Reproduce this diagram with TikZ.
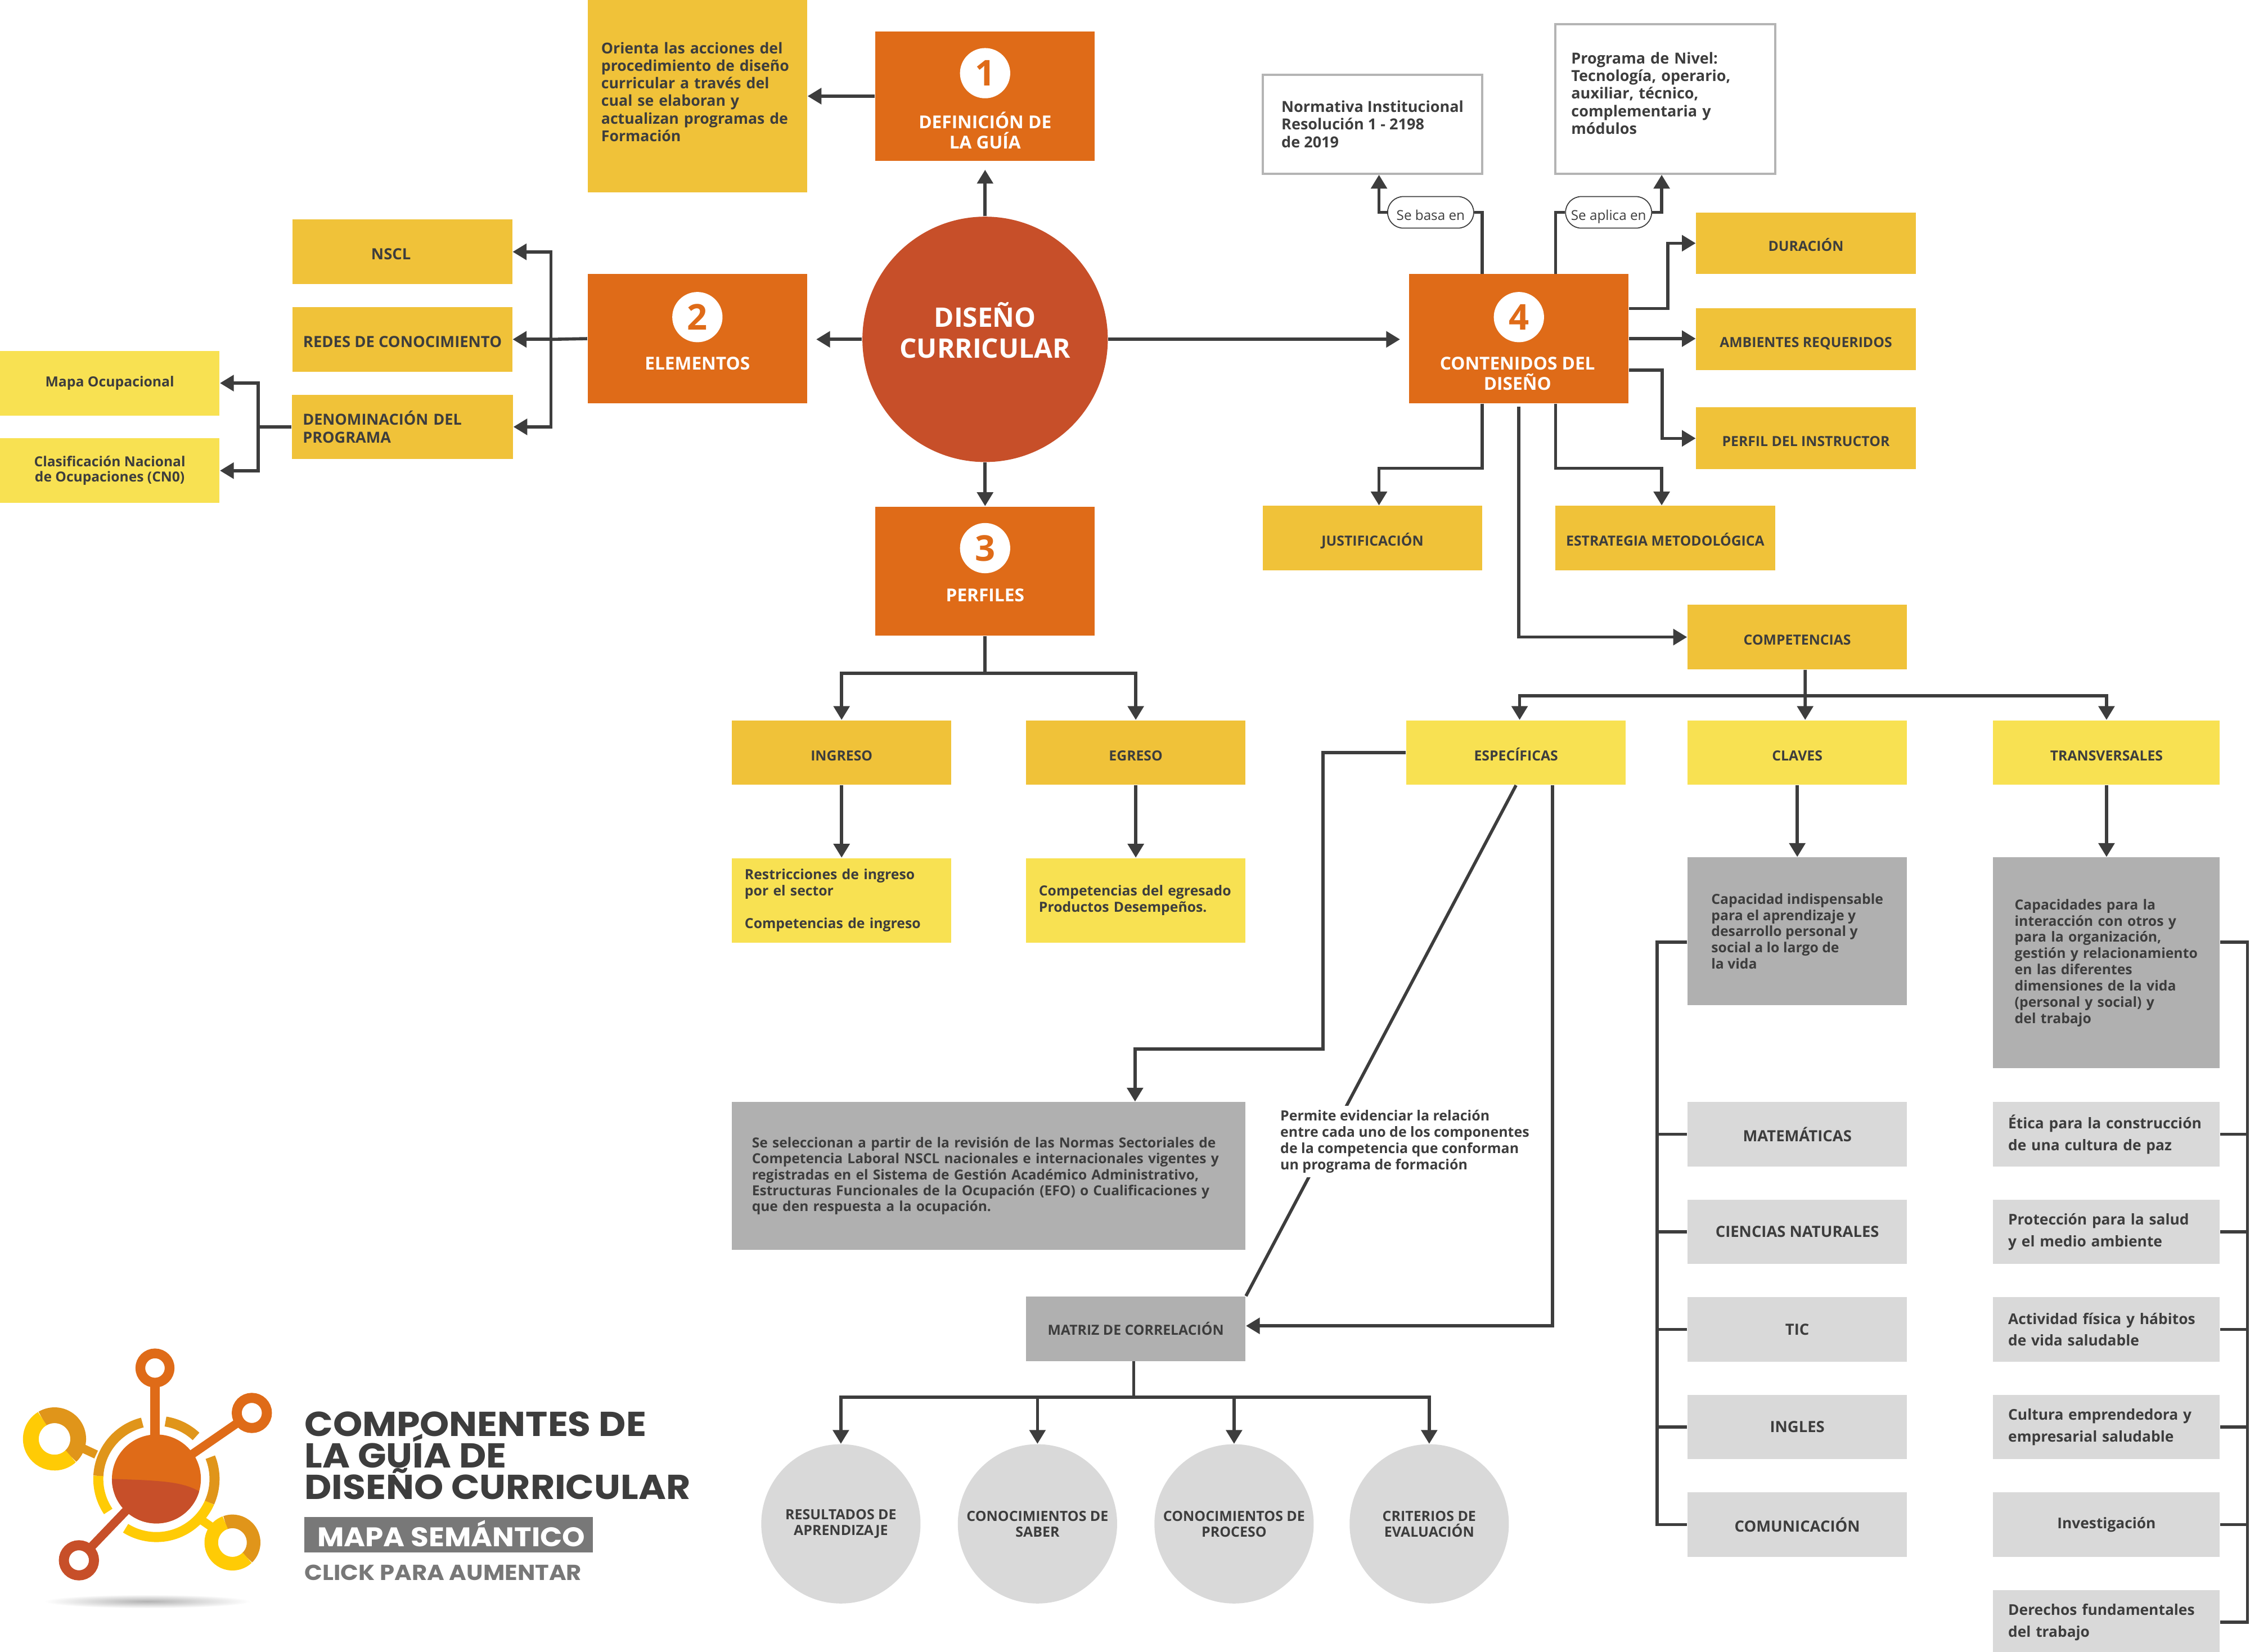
\documentclass[tikz,border=0pt]{standalone}
\usepackage{fontspec}
\setmainfont{Open Sans}
\newfontfamily\titlefont[FakeStretch=1.08]{Poppins}
\usetikzlibrary{arrows.meta,positioning}
\newlength{\pu}
\setlength{\pu}{0.0255102cm}
\definecolor{naranja}{HTML}{DF6B18}
\definecolor{rojizo}{HTML}{C74F29}
\definecolor{ambar}{HTML}{F0C239}
\definecolor{amarillo}{HTML}{F8E152}
\definecolor{grismedio}{HTML}{B0B0B0}
\definecolor{grisclaro}{HTML}{D9D9D9}
\definecolor{grisborde}{HTML}{B4B4B4}
\definecolor{tinta}{HTML}{3D3D3D}
\definecolor{gristitulo}{HTML}{787878}
\definecolor{logoamb}{HTML}{E0951A}
\definecolor{logoam}{HTML}{FFCB05}
\newcommand{\letra}[2]{\fontsize{#1}{#2}\selectfont}
\newcommand{\apretado}{\lineskiplimit=-20pt\relax}
\newcommand{\arcologo}[6]{\draw[#1,line width=#6\pu] (#2) ++(#3:#5) arc[start angle=#3,end angle=#4,radius=#5];}
\tikzset{
	caja/.style={rectangle,inner sep=0pt,minimum width=153\pu,minimum height=45\pu,text=tinta,align=center,font=\bfseries\letra{7.05}{8.2}},
	bajo/.style={text height=8pt,text depth=0pt},
	cajaambar/.style={caja,fill=ambar},
	cajaamar/.style={caja,fill=amarillo},
	cajagris/.style={caja,fill=grismedio},
	cajaclara/.style={caja,fill=grisclaro,font=\bfseries\letra{7.8}{11}},
	cajalista/.style={cajaclara,minimum width=158\pu,text width=137\pu,inner xsep=10.5\pu,align=left,font=\bfseries\letra{7.5}{11}},
	cajablanca/.style={caja,draw=grisborde,line width=1.2pt,fill=white,font=\bfseries\letra{7.7}{8.9}},
	cajanum/.style={rectangle,fill=naranja,minimum width=153\pu,minimum height=90\pu,inner sep=0pt},
	numero/.style={circle,fill=white,minimum size=35\pu,inner sep=0pt,text=naranja,font=\bfseries\letra{18}{18}},
	etiqnum/.style={inner sep=0pt,text=white,align=center,font=\bfseries\letra{9}{10.2}},
	pildora/.style={rectangle,rounded corners=11\pu,draw=tinta,line width=0.5pt,fill=white,minimum width=60\pu,minimum height=22\pu,inner sep=0pt,text=tinta,font=\letra{6.9}{8}},
	circulo/.style={circle,fill=grisclaro,minimum size=111\pu,inner sep=0pt,text=tinta,align=center,font=\bfseries\letra{7.1}{8}},
	conn/.style={draw=tinta,line width=1.6pt},
	flecha/.style={conn,-{Triangle[length=7pt,width=8pt]}},
	flechagap/.style={flecha,shorten >=4.4pt}
}
\begin{document}
\begin{tikzpicture}[x=1\pu,y=-1\pu]
	\useasboundingbox (0,0) rectangle (1568,1151.3);
	\node[cajaambar,minimum height=134\pu,text width=134\pu,inner xsep=9.5\pu,align=left,font=\bfseries\letra{7.6}{8.9}] (orienta) at (486,67) {Orienta las acciones del\\procedimiento de diseño\\curricular a través del\\cual se elaboran y\\actualizan programas de\\Formación\\[-4.5pt]\mbox{}};
	\node[cajanum] (def) at (686.5,67) {};
	\node[numero] (numdef) at (686.5,51) {1};
	\node[etiqnum] (labdef) at (686.5,91) {DEFINICIÓN DE\\LA GUÍA};
	\node[circle,fill=rojizo,minimum size=171\pu,inner sep=0pt,text=white,align=center,font=\bfseries\letra{13.6}{15.6}] (centro) at (686.5,236.5) {DISEÑO\\CURRICULAR\\[-6.2pt]\mbox{}};
	\node[cajanum] (elementos) at (486,236) {};
	\node[numero] (numelem) at (486,221) {2};
	\node[etiqnum] (labelem) at (486,253.5) {ELEMENTOS};
	\node[cajanum] (perfiles) at (686.5,398) {};
	\node[numero] (numperf) at (686.5,382) {3};
	\node[etiqnum] (labperf) at (686.5,415) {PERFILES};
	\node[cajanum] (contenidos) at (1058.5,236) {};
	\node[numero] (numcont) at (1058.5,221) {4};
	\node[etiqnum] (labcont) at (1057.5,260.5) {CONTENIDOS DEL\\DISEÑO};
	\node[cajaambar,bajo,font=\bfseries\letra{7.8}{9}] (nscl) at (280.5,175.5) {NSCL\hspace{16\pu}};
	\node[cajaambar,bajo,font=\bfseries\letra{7.8}{9}] (redes) at (280.5,236.5) {REDES DE CONOCIMIENTO};
	\node[cajaambar,text width=139\pu,inner xsep=7.5\pu,align=left,font=\bfseries\letra{7.7}{9}] (denom) at (280.5,297.5) {DENOMINACIÓN DEL\\PROGRAMA};
	\node[cajaamar,font=\bfseries\letra{7.05}{8}] (mapa) at (76.5,267) {Mapa Ocupacional};
	\node[cajaamar,font=\bfseries\letra{7}{7.6}] (clasif) at (76.5,328) {Clasificación Nacional\\de Ocupaciones (CN0)};
	\node[cajaambar,bajo] (ingreso) at (586.5,524.5) {INGRESO};
	\node[cajaambar,bajo] (egreso) at (791.5,524.5) {EGRESO};
	\node[cajaamar,minimum height=59\pu,text width=135\pu,inner xsep=9\pu,align=left] (restric) at (586.5,627.5) {Restricciones de ingreso\\por el sector\\\mbox{}\\Competencias de ingreso};
	\node[cajaamar,minimum height=59\pu,text width=135\pu,inner xsep=9\pu,align=left] (compeg) at (791.5,627.5) {Competencias del egresado\\Productos Desempeños.};
	\node[cajablanca,minimum height=69\pu,align=left] (normativa) at (956.5,86.5) {Normativa Institucional\\Resolución 1 - 2198\\de 2019};
	\node[cajablanca,text width=131\pu,inner xsep=11\pu,minimum height=104\pu,align=left] (programa) at (1160.5,69) {Programa de Nivel:\\Tecnología, operario,\\auxiliar, técnico,\\complementaria y\\módulos\\[-3pt]\mbox{}};
	\node[pildora,bajo] (basa) at (997,148) {Se basa en};
	\node[pildora,bajo] (aplica) at (1121,148) {Se aplica en};
	\node[cajaambar,bajo,minimum height=43\pu] (duracion) at (1258.5,169.5) {DURACIÓN};
	\node[cajaambar,bajo,minimum height=43\pu] (ambientes) at (1258.5,236.5) {AMBIENTES REQUERIDOS};
	\node[cajaambar,bajo,minimum height=43\pu] (perfil) at (1258.5,305.5) {PERFIL DEL INSTRUCTOR};
	\node[cajaambar,bajo] (justificacion) at (956.5,375) {JUSTIFICACIÓN};
	\node[cajaambar,bajo] (estrategia) at (1160.5,375) {ESTRATEGIA METODOLÓGICA};
	\node[cajaambar,bajo] (competencias) at (1252.5,444) {COMPETENCIAS};
	\node[cajaamar,bajo] (especificas) at (1056.5,524.5) {ESPECÍFICAS};
	\node[cajaamar,bajo] (claves) at (1252.5,524.5) {CLAVES};
	\node[cajaamar,bajo,minimum width=158\pu] (transversales) at (1468,524.5) {TRANSVERSALES};
	\node[cajagris,minimum height=103\pu,align=left] (capacidad) at (1252.5,649) {Capacidad indispensable\\para el aprendizaje y\\desarrollo personal y\\social a lo largo de\\la vida};
	\node[cajagris,minimum width=158\pu,minimum height=147\pu,text width=128\pu,inner xsep=15\pu,align=left] (capacidades) at (1468,671) {Capacidades para la\\interacción con otros y\\para la organización,\\gestión y relacionamiento\\en las diferentes\\dimensiones de la vida\\(personal y social) y\\del trabajo};
	\node[cajagris,minimum width=358\pu,minimum height=103\pu,text width=330\pu,inner xsep=14\pu,align=left,font=\bfseries\letra{7}{8.1}] (seleccion) at (689,819.5) {Se seleccionan a partir de la revisión de las Normas Sectoriales de\\Competencia Laboral NSCL nacionales e internacionales vigentes y\\registradas en el Sistema de Gestión Académico Administrativo,\\Estructuras Funcionales de la Ocupación (EFO) o Cualificaciones y\\que den respuesta a la ocupación.};
	\node[cajagris] (matriz) at (791.5,926) {MATRIZ DE CORRELACIÓN};
	\node[circulo] (resultados) at (586,1062) {RESULTADOS DE\\APRENDIZAJE};
	\node[circulo] (saber) at (723,1062) {CONOCIMIENTOS DE\\SABER};
	\node[circulo] (proceso) at (860,1062) {CONOCIMIENTOS DE\\PROCESO};
	\node[circulo] (criterios) at (996,1062) {CRITERIOS DE\\EVALUACIÓN};
	\node[cajaclara] (mate) at (1252.5,790.5) {MATEMÁTICAS};
	\node[cajaclara] (ciencias) at (1252.5,858.5) {CIENCIAS NATURALES};
	\node[cajaclara] (tic) at (1252.5,926.5) {TIC};
	\node[cajaclara] (ingles) at (1252.5,994.5) {INGLES};
	\node[cajaclara] (comunic) at (1252.5,1062.5) {COMUNICACIÓN};
	\node[cajalista] (etica) at (1468,790.5) {Ética para la construcción\\de una cultura de paz};
	\node[cajalista] (proteccion) at (1468,858.5) {Protección para la salud\\y el medio ambiente};
	\node[cajalista] (actividad) at (1468,926.5) {Actividad física y hábitos\\de vida saludable};
	\node[cajalista] (cultura) at (1468,994.5) {Cultura emprendedora y\\empresarial saludable};
	\node[cajaclara,minimum width=158\pu,font=\bfseries\letra{7.5}{11}] (investiga) at (1468,1062.5) {Investigación};
	\node[cajalista] (derechos) at (1468,1130.5) {Derechos fundamentales\\del trabajo};
	\coordinate (buselem) at (384,236.5);
	\coordinate (busdenom) at (180,297.5);
	\coordinate (buscomp) at (1258,485);
	\coordinate (codoesp) at (922,731);
	\draw[flechagap] (centro.north)--(def.south);
	\draw[flecha] (def.west)--(def.west-|orienta.east);
	\draw[flechagap] (centro.west)--(centro.west-|elementos.east);
	\draw[flecha] (centro.south)--(perfiles.north);
	\draw[flechagap] (centro.east)--(centro.east-|contenidos.west);
	\draw[conn] (elementos.west)--(buselem);
	\draw[flecha] (buselem)--(redes.east);
	\draw[flecha] (buselem)|-(nscl.east);
	\draw[flecha] (buselem)|-(denom.east);
	\draw[conn] (denom.west)--(busdenom);
	\draw[flecha] (busdenom)|-(mapa.east);
	\draw[flecha] (busdenom)|-(clasif.east);
	\draw[flecha] (perfiles.south)--++(0,26)-|(ingreso.north);
	\draw[flecha] (perfiles.south)--++(0,26)-|(egreso.north);
	\draw[flecha] (ingreso.south)--(restric.north);
	\draw[flecha] (egreso.south)--(compeg.north);
	\draw[conn] ([xshift=-25.5\pu]contenidos.north)|-(basa.east);
	\draw[flecha] (basa.west)-|([xshift=4.5\pu]normativa.south);
	\draw[conn] ([xshift=25.5\pu]contenidos.north)|-(aplica.west);
	\draw[flecha] (aplica.east)-|([xshift=-2.5\pu]programa.south);
	\draw[flecha] ([xshift=-25.5\pu]contenidos.south)--++(0,45)-|([xshift=4.5\pu]justificacion.north);
	\draw[flecha] ([xshift=25.5\pu]contenidos.south)--++(0,45)-|([xshift=-2.5\pu]estrategia.north);
	\draw[flecha] ([yshift=-2\pu]contenidos.south)|-(competencias.west);
	\draw[flecha] ([yshift=21\pu]contenidos.east)--++(27,0)|-(duracion.west);
	\draw[flecha] (contenidos.east)--(contenidos.east-|ambientes.west);
	\draw[flecha] ([yshift=-22\pu]contenidos.east)--++(23,0)|-(perfil.west);
	\draw[conn] ([xshift=5.5\pu]competencias.south)--(buscomp);
	\draw[flecha] (buscomp)-|([xshift=2.5\pu]especificas.north);
	\draw[flecha] (buscomp)--([xshift=5.5\pu]claves.north);
	\draw[flecha] (buscomp)-|(transversales.north);
	\draw[flecha] (claves.south)--(capacidad.north);
	\draw[flecha] (transversales.south)--(capacidades.north);
	\draw[flecha] (especificas.west)-|(codoesp)-|([xshift=102\pu]seleccion.north);
	\draw[conn] (especificas.south)--(matriz.north east);
	\draw[flecha] ([xshift=25.5\pu]especificas.south)|-([yshift=2\pu]matriz.east);
	\draw[flecha] ([xshift=-1.5\pu]matriz.south)--++(0,25)-|(resultados.north);
	\draw[flecha] ([xshift=-1.5\pu]matriz.south)--++(0,25)-|(saber.north);
	\draw[flecha] ([xshift=-1.5\pu]matriz.south)--++(0,25)-|(proceso.north);
	\draw[flecha] ([xshift=-1.5\pu]matriz.south)--++(0,25)-|(criterios.north);
	\draw[conn] ([yshift=-7.5\pu]capacidad.west)--++(-21,0)|-(comunic.west);
	\draw[conn] (mate.west)--++(-21,0);
	\draw[conn] (ciencias.west)--++(-21,0);
	\draw[conn] (tic.west)--++(-21,0);
	\draw[conn] (ingles.west)--++(-21,0);
	\draw[conn] ([yshift=14.5\pu]capacidades.east)--++(19,0)|-(derechos.east);
	\draw[conn] (etica.east)--++(19,0);
	\draw[conn] (proteccion.east)--++(19,0);
	\draw[conn] (actividad.east)--++(19,0);
	\draw[conn] (cultura.east)--++(19,0);
	\draw[conn] (investiga.east)--++(19,0);
	\node[fill=white,inner sep=3\pu,anchor=west,align=left,text=tinta,font=\bfseries\letra{7.1}{8.2}] (permite) at (889,795.5) {Permite evidenciar la relación\\entre cada uno de los componentes\\de la competencia que conforman\\un programa de formación};
	\shade[inner color=black!30,outer color=white] (102.7,1116) ellipse [x radius=72,y radius=4.8];
	\begin{scope}[shift={(109,1030.7)},y=1\pu]
		\arcologo{logoamb}{0,0}{104}{177}{40.5}{7}
		\arcologo{logoam}{0,0}{177}{214}{40.5}{7}
		\arcologo{logoam}{0,0}{238}{336}{40.5}{7}
		\arcologo{logoamb}{0,0}{336}{382}{40.5}{7}
		\arcologo{logoamb}{0,0}{47}{81}{40.5}{7}
		\draw[naranja,line width=7\pu] (-1,28)--(-1,64);
		\draw[naranja,line width=6\pu] (15,10.4)--(57,39.4);
		\draw[rojizo,line width=6\pu] (-15,-15.7)--(-46,-48);
		\draw[logoamb,line width=6\pu] (-57,24)--(-42,17);
		\draw[logoam,line width=6\pu] (32,-29)--(45,-38);
		\fill[naranja] (0,0) circle (31);
		\begin{scope}
			\clip (0,0) circle (31);
			\fill[rojizo] (-32,0) .. controls (5,-1) and (20,-2) .. (32,-10)--(32,-32)--(-32,-32)--cycle;
		\end{scope}
		\draw[naranja,line width=6.8\pu] (-1,77.3) circle (10.2);
		\draw[naranja,line width=7\pu] (66.5,46) circle (10.5);
		\draw[rojizo,line width=7\pu] (-54,-56.7) circle (10.5);
		\arcologo{logoamb}{-71,27.9}{-47}{121}{16.5}{11}
		\arcologo{logoam}{-71,27.9}{121}{313}{16.5}{11}
		\arcologo{logoamb}{53,-44.3}{-46}{110}{14.75}{9.5}
		\arcologo{logoam}{53,-44.3}{110}{314}{14.75}{9.5}
	\end{scope}
	\node[inner sep=0pt,anchor=west,align=left,text=tinta,font=\titlefont\bfseries\letra{17.5}{16}\apretado] (titulo) at (212,1014.5) {COMPONENTES DE\\LA GUÍA DE\\DISEÑO CURRICULAR};
	\node[fill=gristitulo,minimum width=201\pu,minimum height=24.5\pu,inner sep=0pt,text=white,font=\titlefont\bfseries\letra{13.6}{14}] (mapasem) at (312.5,1069.5) {\raisebox{1.5pt}{\hspace*{4\pu}MAPA SEMÁNTICO}};
	\node[inner sep=0pt,anchor=west,text=gristitulo,font=\titlefont\bfseries\letra{11}{12}] (click) at (212,1096) {CLICK PARA AUMENTAR};
\end{tikzpicture}
\end{document}
